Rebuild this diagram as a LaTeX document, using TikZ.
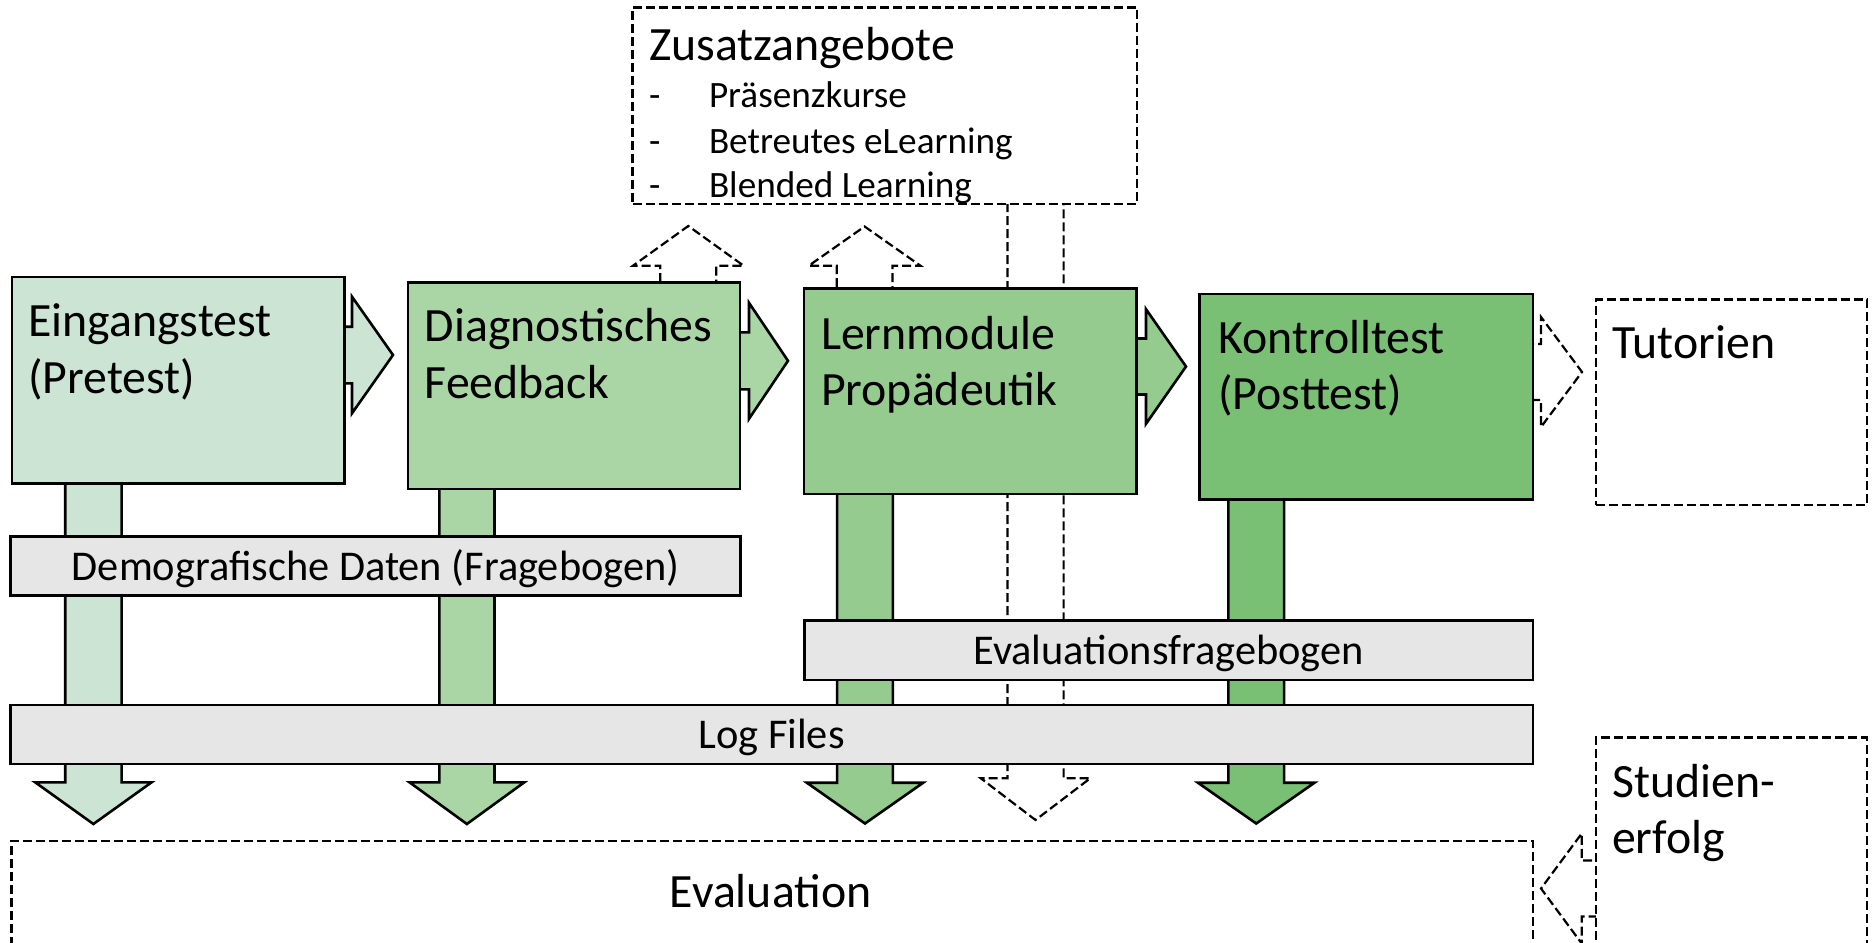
\documentclass[tikz,border=0pt]{standalone}
\usepackage{fontspec}
\setmainfont{Carlito}
\usetikzlibrary{fit}
\definecolor{cEing}{RGB}{204,228,211}
\definecolor{cDiag}{RGB}{170,214,165}
\definecolor{cLern}{RGB}{149,203,142}
\definecolor{cKont}{RGB}{121,191,116}
\definecolor{cBand}{RGB}{230,230,230}
% horizontal block arrow: style, x start, x head base, x tip, y centre, shaft half, head half
\newcommand\blockH[7]{\draw[#1] (#2,#5-#6) -- (#3,#5-#6) -- (#3,#5-#7) -- (#4,#5) -- (#3,#5+#7) -- (#3,#5+#6) -- (#2,#5+#6) -- cycle;}
% vertical block arrow: style, y start, y head base, y tip, x centre, shaft half, head half
\newcommand\blockV[7]{\draw[#1] (#5-#6,#2) -- (#5-#6,#3) -- (#5-#7,#3) -- (#5,#4) -- (#5+#7,#3) -- (#5+#6,#3) -- (#5+#6,#2) -- cycle;}
\begin{document}
\begin{tikzpicture}[x=0.5pt,y=-0.5pt,
  box/.style={draw=black, line width=1.3pt, inner sep=0pt},
  dbox/.style={draw=black, line width=1.2pt, dash pattern=on 4.5pt off 2pt, fill=white, inner sep=0pt},
  band/.style={draw=black, line width=1.3pt, fill=cBand, inner sep=0pt},
  blk/.style={draw=black, line width=1.3pt, line join=miter},
  dblk/.style={draw=black, line width=1.1pt, dash pattern=on 4.5pt off 2pt, fill=white, line join=miter},
  big/.style={font=\fontsize{23.9}{28}\selectfont, inner sep=0pt, anchor=base west},
  mid/.style={font=\fontsize{18.6}{22}\selectfont, inner sep=0pt, anchor=base west},
  bandtxt/.style={font=\fontsize{21.2}{24}\selectfont, inner sep=0pt, anchor=base},
]
\useasboundingbox (0,0) rectangle (1873,942);

% dashed arrow from Zusatzangebote down (behind everything)
\blockV{dblk}{190}{778.3}{820}{1035.5}{28.1}{54.7}

% dashed up arrows
\blockV{dblk}{295}{265.7}{226}{688.3}{28}{55.3}
\blockV{dblk}{300}{265.7}{226.5}{864.6}{27.8}{55.8}

% right block arrows
\blockH{blk,fill=cEing}{334}{352}{393}{355}{28.3}{58.3}
\blockH{blk,fill=cDiag}{730}{749}{788}{360.8}{28.5}{58}
\blockH{blk,fill=cLern}{1126}{1146}{1186}{366.5}{28}{57.3}
\blockH{dblk}{1525}{1541}{1582}{372}{28}{55}

% down block arrows
\blockV{blk,fill=cEing}{470}{782.3}{824}{93.4}{28.2}{58.2}
\blockV{blk,fill=cDiag}{475}{782.3}{824}{466.9}{27.6}{57.4}
\blockV{blk,fill=cLern}{480}{782.7}{823.5}{865}{27.9}{58.2}
\blockV{blk,fill=cKont}{485}{782.7}{823.5}{1256.2}{27.9}{58.3}

% left dashed arrow from Studienerfolg
\blockH{dblk}{1605}{1581.7}{1541}{888.5}{28}{55}

% main boxes
\node[box, fill=cEing, fit={(12,277) (344.4,483.5)}] (eing) {};
\node[box, fill=cDiag, fit={(408,282.5) (740,489)}] (diag) {};
\node[box, fill=cLern, fit={(803.8,288.3) (1136.5,494)}] (lern) {};
\node[box, fill=cKont, fit={(1199.5,294) (1532.8,499.3)}] (kont) {};

% bands
\node[band, fit={(10.7,536.7) (740.7,595.7)}] (demo) {};
\node[band, fit={(804.4,620.7) (1532.8,680)}] (evalq) {};
\node[band, fit={(10.3,705) (1532.8,764)}] (logf) {};

% dashed boxes
\node[dbox, fit={(632.5,7.3) (1136.8,204)}] (zus) {};
\node[dbox, fit={(1596,299.3) (1867,505)}] (tut) {};
\node[dbox, fit={(1596,737.3) (1866.7,990)}] (stud) {};
\node[dbox, fit={(11.5,840.7) (1533,990)}] (evalbox) {};

% texts
\node[big] (t1a) at (28,336.7) {Eingangstest};
\node[big] (t1b) at (28,393.2) {(Pretest)};
\node[big] (t2a) at (424.5,341.7) {Diagnostisches};
\node[big] (t2b) at (424.5,398.2) {Feedback};
\node[big] (t3a) at (820.7,349) {Lernmodule};
\node[big] (t3b) at (820.7,405.5) {Propädeutik};
\node[big] (t4a) at (1218,353.3) {Kontrolltest};
\node[big] (t4b) at (1218,409.8) {(Posttest)};
\node[big] (t5) at (1612,358) {Tutorien};
\node[big] (t6a) at (1611.7,797.3) {Studien-};
\node[big] (t6b) at (1611.7,853.3) {erfolg};
\node[big] (tz) at (648.6,60) {Zusatzangebote};
\node[mid] (d1) at (648.6,107.3) {-};
\node[mid] (z1) at (708.6,107.3) {Präsenzkurse};
\node[mid] (d2) at (648.6,153.3) {-};
\node[mid] (z2) at (708.6,153.3) {Betreutes eLearning};
\node[mid] (d3) at (648.6,197) {-};
\node[mid] (z3) at (708.6,197) {Blended Learning};
\node[bandtxt] (tdemo) at (375.7,580) {Demografische Daten (Fragebogen)};
\node[bandtxt] (tevq) at (1168.6,664.3) {Evaluationsfragebogen};
\node[bandtxt] (tlog) at (771.5,748.3) {Log Files};
\node[big, anchor=base] (tev) at (770.7,907.7) {Evaluation};
\end{tikzpicture}
\end{document}
